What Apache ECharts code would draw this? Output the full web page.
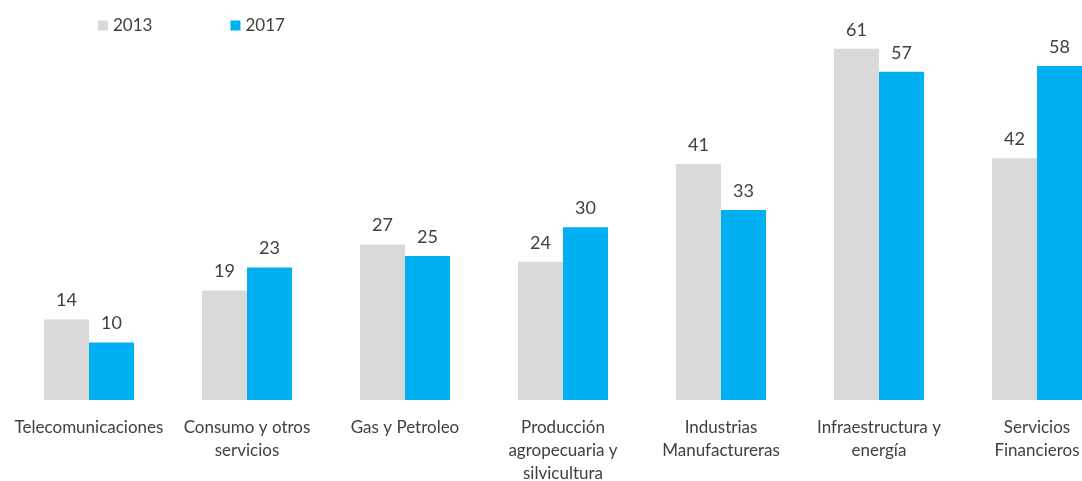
<!DOCTYPE html>
<html>
<head>
<meta charset="utf-8">
<script src="https://cdn.jsdelivr.net/npm/echarts@6/dist/echarts.min.js"></script>
<style>
  html, body { margin: 0; padding: 0; background: #fff; }
  #chart { width: 1082px; height: 481px; }
</style>
</head>
<body>
<div id="chart"></div>
<script>
// categorias y valores
const categories = [
  'Telecomunicaciones',
  'Consumo y otros\nservicios',
  'Gas y Petroleo',
  'Producción\nagropecuaria y\nsilvicultura',
  'Industrias\nManufactureras',
  'Infraestructura y\nenergía',
  'Servicios\nFinancieros'
];
const serie2013 = [14, 19, 27, 24, 41, 61, 42];
const serie2017 = [10, 23, 25, 30, 33, 57, 58];

const chart = echarts.init(document.getElementById('chart'));

const labelStyle = {
  show: true,
  position: 'top',
  distance: 10,
  color: '#404040',
  fontSize: 18,
  fontFamily: 'Lato'
};

chart.setOption({
  animation: false,
  textStyle: { fontFamily: 'Lato' },
  legend: {
    left: 93,
    top: 12,
    itemWidth: 10,
    itemHeight: 10,
    itemGap: 78,
    icon: 'rect',
    textStyle: { color: '#404040', fontSize: 17, fontFamily: 'Lato' },
    data: ['2013', '2017']
  },
  grid: {
    left: 10,
    top: 20,
    width: 1106,
    bottom: 81,
    containLabel: false,
    outerBoundsMode: 'none'
  },
  xAxis: {
    type: 'category',
    data: categories,
    axisLine: { show: false },
    axisTick: { show: false },
    axisLabel: {
      interval: 0,
      margin: 16,
      color: '#404040',
      fontSize: 17,
      lineHeight: 23,
      fontFamily: 'Lato'
    }
  },
  yAxis: {
    type: 'value',
    min: 0,
    max: 66,
    show: false,
    splitLine: { show: false }
  },
  series: [
    {
      name: '2013',
      type: 'bar',
      data: serie2013,
      barWidth: 45,
      barGap: '0%',
      itemStyle: { color: '#d9d9d9' },
      label: labelStyle
    },
    {
      name: '2017',
      type: 'bar',
      data: serie2017,
      barWidth: 45,
      barGap: '0%',
      itemStyle: { color: '#00b0f0' },
      label: labelStyle
    }
  ]
});
</script>
</body>
</html>
